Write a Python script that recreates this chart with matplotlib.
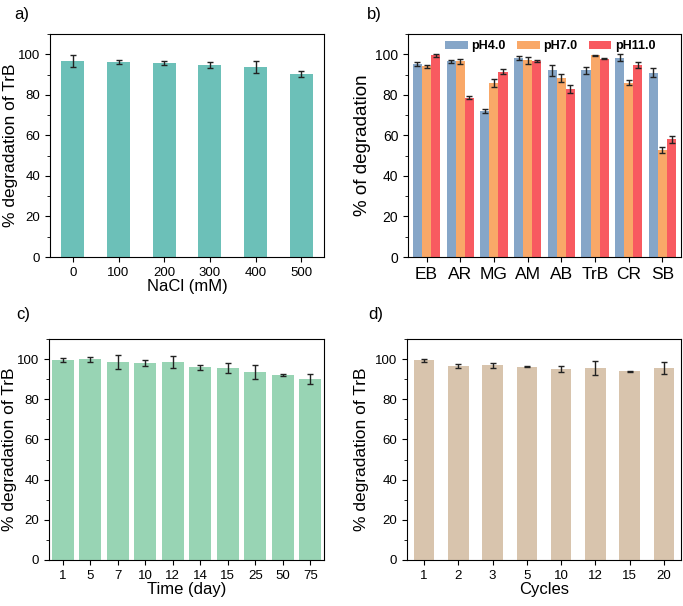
import numpy as np
import matplotlib.pyplot as plt
from matplotlib.ticker import MultipleLocator

plt.rcParams['font.family'] = ['Liberation Sans', 'DejaVu Sans']

# a) NaCl
nacl_labels = ['0', '100', '200', '300', '400', '500']
nacl_vals = [96.5, 96.0, 95.8, 94.5, 93.8, 90.3]
nacl_err = [3.0, 1.0, 1.0, 1.5, 3.0, 1.5]

# b) dyes at three pH
dyes = ['EB', 'AR', 'MG', 'AM', 'AB', 'TrB', 'CR', 'SB']
ph4 = [95.3, 96.5, 72.0, 98.3, 92.0, 92.0, 98.3, 91.0]
ph4_err = [1.0, 0.8, 1.0, 1.0, 2.5, 1.5, 1.8, 2.0]
ph7 = [94.0, 96.5, 86.0, 97.0, 88.5, 99.5, 86.0, 53.0]
ph7_err = [0.7, 1.2, 2.0, 1.8, 2.0, 0.3, 1.3, 1.5]
ph11 = [99.5, 78.5, 91.5, 96.5, 83.0, 97.8, 94.5, 58.0]
ph11_err = [0.8, 0.8, 1.0, 0.5, 2.0, 0.3, 1.5, 1.8]

# c) storage time
days = ['1', '5', '7', '10', '12', '14', '15', '25', '50', '75']
day_vals = [99.5, 99.8, 98.5, 98.0, 98.5, 96.0, 95.5, 93.8, 92.3, 90.3]
day_err = [1.0, 1.2, 3.5, 1.5, 3.0, 1.3, 2.5, 3.5, 0.5, 2.5]

# d) reuse cycles
cycles = ['1', '2', '3', '5', '10', '12', '15', '20']
cyc_vals = [99.5, 96.5, 97.0, 96.2, 95.3, 95.7, 94.0, 95.5]
cyc_err = [0.7, 1.0, 1.2, 0.3, 1.5, 3.5, 0.3, 3.0]

fig = plt.figure(figsize=(6.83, 6.06), dpi=100)
W, H = 683, 606


def add_ax(l, t, r, b):
    return fig.add_axes([l / W, 1 - b / H, (r - l) / W, (b - t) / H])


def style(ax, ylabel, xlabel=None, lab_size=12.5, tick_size=9.5, xtick_size=None,
          pad=0):
    ax.set_ylim(0, 110)
    ax.yaxis.set_major_locator(MultipleLocator(20))
    ax.yaxis.set_minor_locator(MultipleLocator(10))
    ax.tick_params(axis='both', which='major', direction='out', length=3.5,
                   width=0.8, labelsize=tick_size)
    ax.tick_params(axis='y', which='minor', direction='out', length=2, width=0.6)
    if xtick_size:
        ax.tick_params(axis='x', labelsize=xtick_size)
    ax.set_ylabel(ylabel, fontsize=lab_size, labelpad=pad)
    if xlabel:
        ax.set_xlabel(xlabel, fontsize=12, labelpad=0)
    for s in ax.spines.values():
        s.set_linewidth(0.8)


err_kw = dict(ecolor='#222222', elinewidth=1.0, capsize=2.5, capthick=1.0)

# panel a
ax = add_ax(50, 34, 324, 257)
x = np.arange(len(nacl_labels))
ax.bar(x, nacl_vals, width=0.5, color='#6cc0b8', yerr=nacl_err,
       error_kw=err_kw)
ax.set_xticks(x)
ax.set_xticklabels(nacl_labels)
ax.set_xlim(-0.5, len(x) - 0.5)
style(ax, '% degradation of TrB', 'NaCl (mM)')
fig.text(14 / W, 1 - 14 / H, 'a)', fontsize=12, va='center')

# panel b
ax = add_ax(408, 34, 681, 257)
x = np.arange(len(dyes))
bw = 0.27
ax.bar(x - bw, ph4, width=bw, color='#86a6c8', yerr=ph4_err, error_kw=err_kw,
       label='pH4.0')
ax.bar(x, ph7, width=bw, color='#f9a868', yerr=ph7_err, error_kw=err_kw,
       label='pH7.0')
ax.bar(x + bw, ph11, width=bw, color='#f85a60', yerr=ph11_err, error_kw=err_kw,
       label='pH11.0')
ax.set_xticks(x)
ax.set_xticklabels(dyes)
ax.set_xlim(-0.55, len(x) - 0.45)
style(ax, '% of degradation', xtick_size=12.5, lab_size=13.5, tick_size=10,
      pad=3)
ax.legend(loc='upper right', ncol=3, frameon=False,
          prop={'weight': 'bold', 'size': 9}, handlelength=1.8,
          handleheight=0.6, columnspacing=0.9, handletextpad=0.3,
          borderaxespad=0.1, bbox_to_anchor=(0.93, 1.0))
fig.text(367 / W, 1 - 14 / H, 'b)', fontsize=12, va='center')

# panel c
ax = add_ax(49, 339, 324, 560)
x = np.arange(len(days))
ax.bar(x, day_vals, width=0.8, color='#98d4b4', yerr=day_err, error_kw=err_kw)
ax.set_xticks(x)
ax.set_xticklabels(days)
ax.set_xlim(-0.5, len(x) - 0.5)
style(ax, '% degradation of TrB', 'Time (day)')
fig.text(16 / W, 1 - 315 / H, 'c)', fontsize=12, va='center')

# panel d
ax = add_ax(407, 339, 681, 560)
x = np.arange(len(cycles))
ax.bar(x, cyc_vals, width=0.6, color='#d8c4ad', yerr=cyc_err, error_kw=err_kw)
ax.set_xticks(x)
ax.set_xticklabels(cycles)
ax.set_xlim(-0.5, len(x) - 0.5)
style(ax, '% degradation of TrB', 'Cycles', pad=4)
fig.text(368 / W, 1 - 315 / H, 'd)', fontsize=12, va='center')

fig.savefig('out.png', dpi=100)
